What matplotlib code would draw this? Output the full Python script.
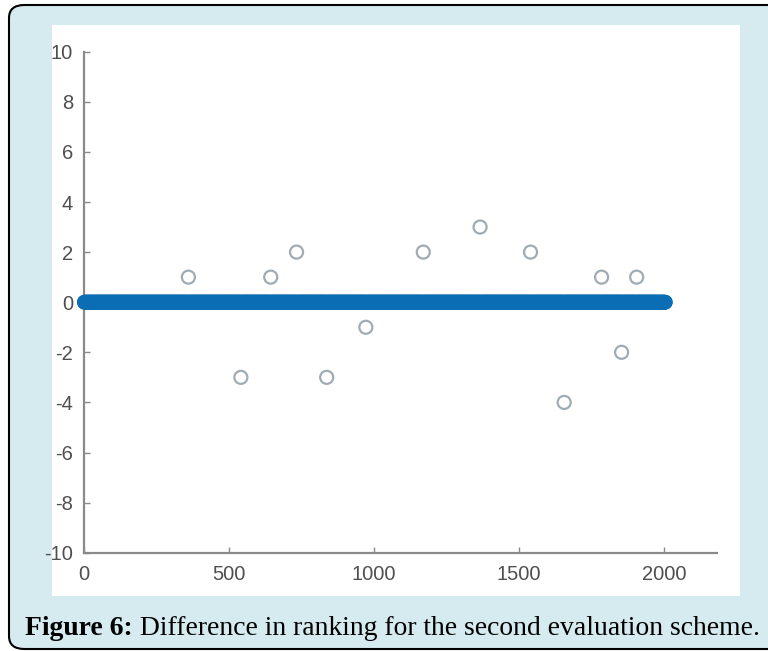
import numpy as np
import matplotlib.pyplot as plt
from matplotlib.patches import FancyBboxPatch, Rectangle

plt.rcParams['axes.unicode_minus'] = False

# data: ranking difference per item, almost all zero
n_items = 2005
outlier_x = [360, 541, 644, 733, 837, 972, 1170, 1366, 1540, 1656, 1785, 1854, 1906]
outlier_y = [1, -3, 1, 2, -3, -1, 2, 3, 2, -4, 1, -2, 1]
x_ticks = [0, 500, 1000, 1500, 2000]
y_ticks = [-10, -8, -6, -4, -2, 0, 2, 4, 6, 8, 10]

ranks = np.arange(1, n_items + 1)
diff = np.zeros(n_items)
for xi, yi in zip(outlier_x, outlier_y):
    diff[xi - 1] = yi
zero_mask = diff == 0

W, H = 768, 651
fig = plt.figure(figsize=(W / 100, H / 100), dpi=100)
fig.patch.set_facecolor("white")

# outer caption box
box = FancyBboxPatch((9 / W, 2 / H), 1.2, 644 / H,
                     boxstyle="round,pad=0,rounding_size=0.02",
                     transform=fig.transFigure, facecolor="#d6ebf0",
                     edgecolor="black", linewidth=1.5, zorder=0)
fig.patches.append(box)
# white panel behind the plot
panel = Rectangle((52 / W, 1 - 596 / H), 688 / W, 571 / H,
                  transform=fig.transFigure, facecolor="white",
                  edgecolor="none", zorder=1)
fig.patches.append(panel)

ax = fig.add_axes([84 / W, 1 - 552.7 / H, 633 / W, 501 / H])
ax.set_zorder(3)
ax.set_facecolor("none")

ax.scatter(ranks[zero_mask], diff[zero_mask], s=88, facecolors="none",
           edgecolors="#0b6db3", linewidths=1.2, zorder=3, clip_on=False)
ax.scatter(ranks[~zero_mask], diff[~zero_mask], s=88, facecolors="none",
           edgecolors="#a0acb3", linewidths=1.6, zorder=3)

ax.set_xlim(0, 2183)
ax.set_ylim(-10, 10)
ax.set_xticks(x_ticks)
ax.set_yticks(y_ticks)
for s in ["top", "right"]:
    ax.spines[s].set_visible(False)
for s in ["left", "bottom"]:
    ax.spines[s].set_color("#8a8a8a")
    ax.spines[s].set_linewidth(1.6)
ax.tick_params(direction="in", length=4, width=1, color="#8a8a8a",
               labelcolor="#4f4f4f", labelsize=14.5)
ax.tick_params(axis="x", pad=9)
ax.tick_params(axis="y", pad=8)
for lab in ax.get_xticklabels() + ax.get_yticklabels():
    lab.set_family(["Liberation Sans", "DejaVu Sans"])

# caption: bold label followed by normal text, fitted to the reference width
cap_font = ["Liberation Serif", "DejaVu Serif"]
size = 18.5
t1 = fig.text(25 / W, 1 - 635 / H, "Figure 6:", fontsize=size, fontweight="bold",
              family=cap_font, ha="left", va="baseline", zorder=5)
t2 = fig.text(0, 1 - 635 / H, " Difference in ranking for the second evaluation scheme.",
              fontsize=size, family=cap_font, ha="left", va="baseline", zorder=5)
fig.canvas.draw()
r = fig.canvas.get_renderer()
w1 = t1.get_window_extent(r).width
w2 = t2.get_window_extent(r).width
scale = 738 / (w1 + w2)
t1.set_fontsize(size * scale)
t2.set_fontsize(size * scale)
fig.canvas.draw()
w1 = t1.get_window_extent(r).width
t2.set_x((25 + w1) / W)

fig.savefig("out.png", dpi=100)
